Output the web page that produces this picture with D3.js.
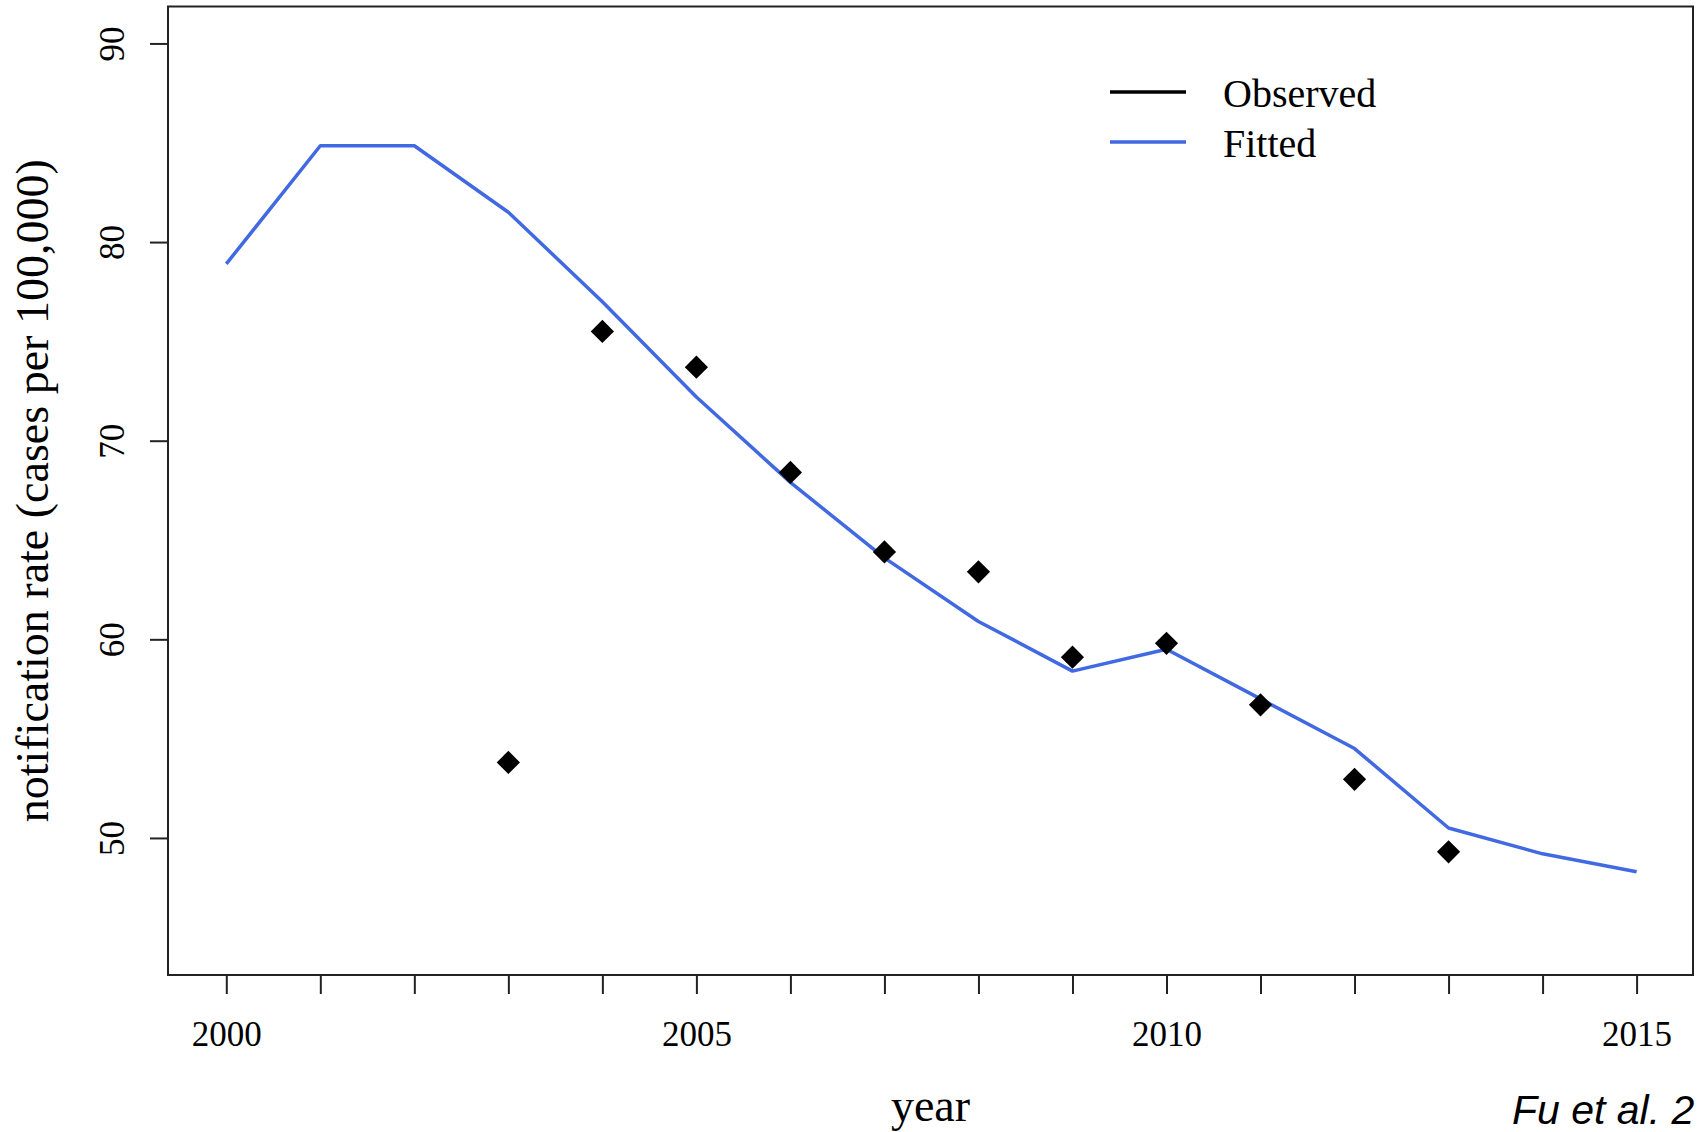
<!DOCTYPE html>
<html>
<head>
<meta charset="utf-8">
<script src="https://cdn.jsdelivr.net/npm/d3@7"></script>
<style>
  html, body { margin: 0; padding: 0; background: #fff; overflow: hidden; }
  svg text { font-family: "Liberation Serif", "Times New Roman", serif; fill: #000; }
</style>
</head>
<body>
<div id="chart"></div>
<script>
// values
const years = [2000, 2001, 2002, 2003, 2004, 2005, 2006, 2007, 2008, 2009, 2010, 2011, 2012, 2013, 2014, 2015]
const fitted = [78.9, 84.85, 84.85, 81.5, 77.0, 72.2, 67.9, 64.1, 60.9, 58.4, 59.5, 57.0, 54.5, 50.5, 49.2, 48.3]
const observedYears = [2003, 2004, 2005, 2006, 2007, 2008, 2009, 2010, 2011, 2012, 2013]
const observed = [53.8, 75.5, 73.7, 68.4, 64.4, 63.4, 59.1, 59.8, 56.7, 52.95, 49.3]
const yTicks = [50, 60, 70, 80, 90]
const xLabelYears = [2000, 2005, 2010, 2015]
const legendItems = [
  { label: "Observed", color: "#000000" },
  { label: "Fitted", color: "#4169E1" }
]

const W = 1700, H = 1132
const margin = { top: 6.5, right: 7, bottom: 157, left: 168 }
const plotW = W - margin.left - margin.right
const plotH = H - margin.top - margin.bottom

const svg = d3.select("#chart").append("svg")
  .attr("width", W)
  .attr("height", H)

const g = svg.append("g")
  .attr("transform", `translate(${margin.left},${margin.top})`)

const x = d3.scaleLinear().domain([1999.38, 2015.6]).range([0, plotW])
const y = d3.scaleLinear().domain([43.1, 91.86]).range([plotH, 0])

// box
g.append("rect")
  .attr("width", plotW)
  .attr("height", plotH)
  .attr("fill", "none")
  .attr("stroke", "#222")
  .attr("stroke-width", 2)

// x axis
const xAxis = g.append("g")
  .attr("transform", `translate(0,${plotH})`)
  .call(d3.axisBottom(x)
    .tickValues(years)
    .tickSize(19)
    .tickPadding(27)
    .tickFormat(d => xLabelYears.includes(d) ? String(d) : ""))
xAxis.select(".domain").remove()
xAxis.selectAll(".tick line").attr("stroke", "#222").attr("stroke-width", 2)
xAxis.selectAll(".tick text")
  .attr("font-family", "Liberation Serif, Times New Roman, serif")
  .attr("font-size", 35)

// y axis
const yAxis = g.append("g")
  .call(d3.axisLeft(y).tickValues(yTicks).tickSize(18))
yAxis.select(".domain").remove()
yAxis.selectAll(".tick line").attr("stroke", "#222").attr("stroke-width", 2)
yAxis.selectAll(".tick text")
  .attr("x", null)
  .attr("dy", null)
  .attr("font-family", "Liberation Serif, Times New Roman, serif")
  .attr("font-size", 35)
  .attr("text-anchor", "middle")
  .attr("transform", "translate(-44,0) rotate(-90)")

// fitted line
const line = d3.line()
  .x((d, i) => x(years[i]))
  .y(d => y(d))

g.append("path")
  .datum(fitted)
  .attr("d", line)
  .attr("fill", "none")
  .attr("stroke", legendItems[1].color)
  .attr("stroke-width", 3.5)
  .attr("stroke-linejoin", "round")

// observed points, filled diamonds
const diamond = d3.symbol().type(d3.symbolSquare).size(270)
g.selectAll(".obs")
  .data(observed)
  .join("path")
  .attr("class", "obs")
  .attr("d", diamond)
  .attr("fill", "#000")
  .attr("transform", (d, i) => `translate(${x(observedYears[i])},${y(d)}) rotate(45)`)

// legend
const legend = svg.append("g").attr("transform", "translate(1110,92)")
const rows = legend.selectAll("g")
  .data(legendItems)
  .join("g")
  .attr("transform", (d, i) => `translate(0,${i * 50})`)
rows.append("line")
  .attr("x1", 0).attr("x2", 76)
  .attr("stroke", d => d.color)
  .attr("stroke-width", 3.5)
rows.append("text")
  .attr("x", 113)
  .attr("y", 14.5)
  .attr("font-size", 40)
  .text(d => d.label)

// axis titles
svg.append("text")
  .attr("x", margin.left + plotW / 2)
  .attr("y", 1121)
  .attr("text-anchor", "middle")
  .attr("font-size", 46)
  .text("year")

svg.append("text")
  .attr("transform", `translate(48,${margin.top + plotH / 2}) rotate(-90)`)
  .attr("text-anchor", "middle")
  .attr("font-size", 46)
  .text("notification rate (cases per 100,000)")

// citation, cut at the edge in the original
svg.append("text")
  .attr("x", 1512)
  .attr("y", 1124)
  .style("font-family", "'Liberation Sans', Arial, sans-serif")
  .style("font-style", "italic")
  .attr("font-size", 41)
  .text("Fu et al. 2")
</script>
</body>
</html>
